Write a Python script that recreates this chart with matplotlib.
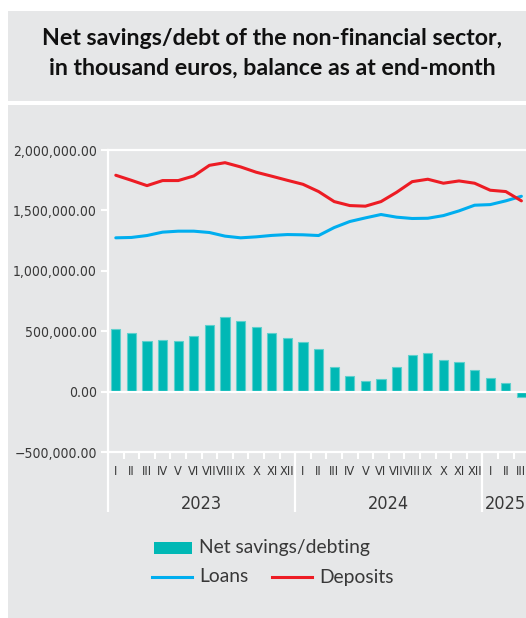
import matplotlib
matplotlib.use('Agg')
import matplotlib.pyplot as plt
from matplotlib.patches import Rectangle
from matplotlib.lines import Line2D
from matplotlib import font_manager
from matplotlib.font_manager import FontProperties

# data (thousand euros, end-month balances, Jan 2023 - Mar 2025)
months = ['I', 'II', 'III', 'IV', 'V', 'VI', 'VII', 'VIII', 'IX', 'X', 'XI', 'XII',
          'I', 'II', 'III', 'IV', 'V', 'VI', 'VII', 'VIII', 'IX', 'X', 'XI', 'XII',
          'I', 'II', 'III']
years = ['2023', '2024', '2025']
year_lengths = [12, 12, 3]
net_savings = [518000, 482000, 416000, 430000, 421000, 457000, 554000, 614000, 587000,
               532000, 485000, 441000, 408000, 355000, 207000, 129000, 91000, 102000,
               204000, 303000, 320000, 262000, 245000, 182000, 116000, 74000, -41000]
loans = [1273000, 1276000, 1292000, 1320000, 1328000, 1328000, 1317000, 1287000, 1273000,
         1281000, 1293000, 1300000, 1298000, 1292000, 1358000, 1408000, 1438000, 1466000,
         1444000, 1433000, 1435000, 1457000, 1496000, 1543000, 1548000, 1579000, 1617000]
deposits = [1791000, 1749000, 1705000, 1747000, 1747000, 1785000, 1873000, 1895000, 1860000,
            1816000, 1783000, 1749000, 1716000, 1656000, 1573000, 1540000, 1535000, 1573000,
            1650000, 1738000, 1758000, 1725000, 1744000, 1725000, 1667000, 1656000, 1579000]
yticks = [-500000, 0, 500000, 1000000, 1500000, 2000000]


def narrow_font():
    # look for any installed condensed / narrow sans face
    best = None
    for f in font_manager.fontManager.ttflist:
        cond = ('Narrow' in f.name or 'Condensed' in f.name
                or f.stretch in ('condensed', 'semi-condensed', 'extra-condensed'))
        if not cond or f.style != 'normal':
            continue
        w = f.weight if isinstance(f.weight, int) else 400
        if w != 400:
            continue
        if 'Mono' in f.name or 'Serif' in f.name:
            continue
        best = f
        if f.stretch == 'condensed':
            break
    if best is not None:
        return FontProperties(fname=best.fname)
    return FontProperties(family='Liberation Sans')


NARROW = narrow_font()


def nf(size):
    p = NARROW.copy()
    p.set_size(size)
    return p


BG = '#e6e7e8'
TXT = '#383838'
BAR = '#00b8b5'
BLUE = '#00aeef'
RED = '#ed1c24'

W, H = 526, 618
fig = plt.figure(figsize=(W / 100, H / 100), dpi=100)
fig.patch.set_facecolor('white')


def fx(px):
    return px / W


def fy(py):
    return 1 - py / H


# background panels
fig.add_artist(Rectangle((fx(8), fy(101)), fx(518), 90 / H, transform=fig.transFigure,
                         facecolor=BG, edgecolor='none', zorder=0))
fig.add_artist(Rectangle((fx(8), 0), fx(518), fy(105), transform=fig.transFigure,
                         facecolor=BG, edgecolor='none', zorder=0))

fig.text(fx(272), fy(53), 'Net savings/debt of the non-financial sector,\nin thousand euros, balance as at end-month',
         ha='center', va='center', fontsize=16.7, fontweight='bold', family='Lato',
         color='#111111', linespacing=1.5)

# axes: x 108..526, y 150..452 px
ax = fig.add_axes([fx(108), fy(452), fx(526 - 108), (452 - 150) / H])
ax.set_facecolor(BG)

x = list(range(len(months)))
ax.bar(x, net_savings, width=0.58, color=BAR, edgecolor='#5fd0cd', linewidth=0.8, zorder=2)
ax.plot(x, loans, color=BLUE, lw=2.2, zorder=4, solid_capstyle='round')
ax.plot(x, deposits, color=RED, lw=2.2, zorder=4, solid_capstyle='round')
ax.axhline(0, color='white', lw=1.6, zorder=3)

ax.set_ylim(-500000, 2000000)
ax.set_xlim(-0.5, -0.5 + 418 / 15.6)

for side in ['left', 'top', 'bottom']:
    ax.spines[side].set_color('white')
    ax.spines[side].set_linewidth(1.6)
ax.spines['right'].set_visible(False)

ax.set_yticks(yticks)
ax.set_yticklabels(['{:,.2f}'.format(v).replace('-', '\u2212') for v in yticks],
                   fontproperties=nf(10), color=TXT)
ax.tick_params(axis='y', color='white', length=5, width=1.5, pad=3)

# month ticks at boundaries
ax.set_xticks([k - 0.5 for k in range(1, len(months))])
ax.set_xticklabels([])
ax.tick_params(axis='x', color='white', length=5, width=1.5)

xt = ax.get_xaxis_transform()
for k, m in enumerate(months):
    ax.text(k, -0.066, m, transform=xt, ha='center', va='center',
            fontproperties=nf(9.2), color=TXT)

start = 0
bounds = [-0.5]
for yr, n in zip(years, year_lengths):
    ax.text(start + (n - 1) / 2, -0.172, yr, transform=xt, ha='center', va='center',
            fontproperties=nf(13), color=TXT)
    start += n
    bounds.append(start - 0.5)
ax.vlines(bounds, -0.2, 0, transform=xt, colors='white', lw=1.6, clip_on=False)

# legend
fig.add_artist(Rectangle((fx(154), fy(553.5)), fx(38), 12 / H, transform=fig.transFigure,
                         facecolor=BAR, edgecolor='none'))
fig.text(fx(199), fy(547), 'Net savings/debting', ha='left', va='center', fontsize=13.9,
         family='Lato', color=TXT)
fig.add_artist(Line2D([fx(152), fx(192)], [fy(577), fy(577)], transform=fig.transFigure,
                      color=BLUE, lw=2.2))
fig.text(fx(199), fy(577), 'Loans', ha='left', va='center', fontsize=13.9,
         family='Lato', color=TXT)
fig.add_artist(Line2D([fx(272), fx(312)], [fy(577), fy(577)], transform=fig.transFigure,
                      color=RED, lw=2.2))
fig.text(fx(319), fy(577), 'Deposits', ha='left', va='center', fontsize=13.9,
         family='Lato', color=TXT)

fig.savefig('out.png', dpi=100, facecolor=fig.get_facecolor())
